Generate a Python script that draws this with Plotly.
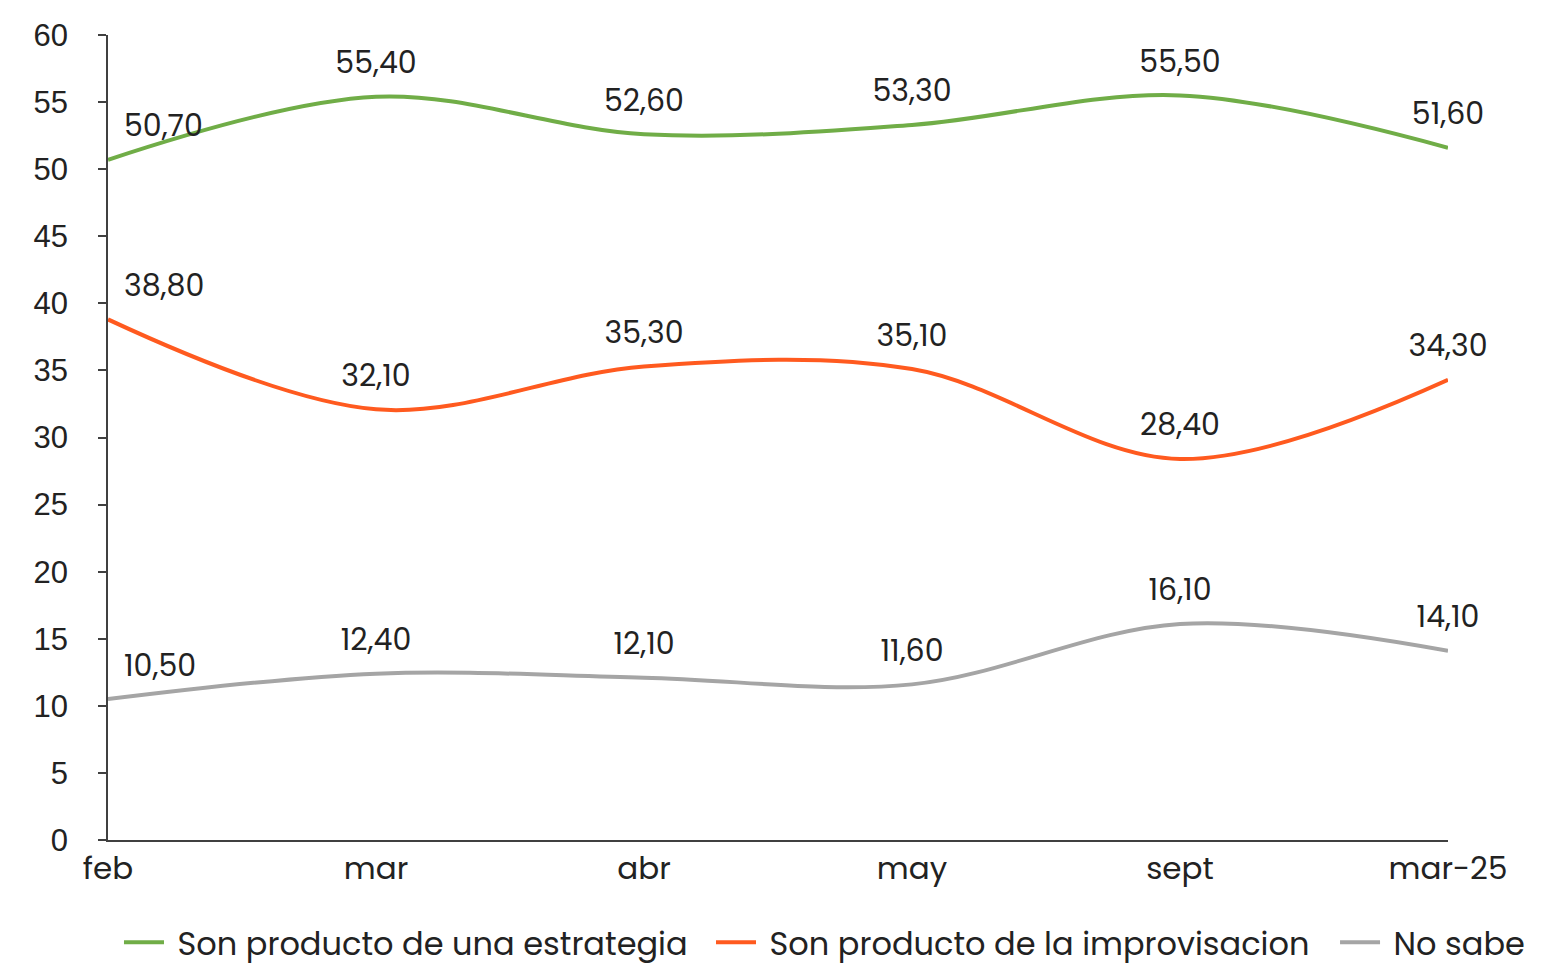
import plotly.graph_objects as go

categories = ["feb", "mar", "abr", "may", "sept", "mar-25"]
estrategia = [50.7, 55.4, 52.6, 53.3, 55.5, 51.6]
improvisacion = [38.8, 32.1, 35.3, 35.1, 28.4, 34.3]
no_sabe = [10.5, 12.4, 12.1, 11.6, 16.1, 14.1]
y_ticks = list(range(0, 61, 5))

series = [
    ("Son producto de una estrategia", estrategia, "#70AD47", "legend"),
    ("Son producto de la improvisacion", improvisacion, "#FF5A1F", "legend2"),
    ("No sabe", no_sabe, "#A5A5A5", "legend3"),
]

def fmt(v):
    return f"{v:.2f}".replace(".", ",")

LABEL_FONT = "Poppins, Inter, 'Noto Sans', sans-serif"
NB = "\u00a0"
xs = list(range(len(categories)))

fig = go.Figure()
for name, vals, color, leg in series:
    fig.add_trace(go.Scatter(
        x=xs, y=vals, name=NB + name, mode="lines", legend=leg,
        line=dict(color=color, width=4, shape="spline", smoothing=1.0),
        cliponaxis=False,
    ))
for name, vals, color, leg in series:
    pos = ["top right"] + ["top center"] * (len(vals) - 1)
    fig.add_trace(go.Scatter(
        x=xs, y=vals, mode="markers+text", showlegend=False, hoverinfo="skip",
        marker=dict(size=24, opacity=0, color=color),
        text=[fmt(v) for v in vals],
        textposition=pos,
        textfont=dict(family=LABEL_FONT, size=30, color="#222222"),
        cliponaxis=False,
    ))

def leg(x):
    return dict(orientation="h", x=x, xanchor="left", y=-0.093, yanchor="top",
                font=dict(family=LABEL_FONT, size=32, color="#222222"),
                itemwidth=40, bgcolor="rgba(0,0,0,0)")

fig.update_layout(
    width=1555, height=964,
    margin=dict(l=100, r=115, t=27, b=132, autoexpand=False),
    paper_bgcolor="white", plot_bgcolor="white",
    showlegend=True,
    legend=leg(0.0082),
    legend2=leg(0.45),
    legend3=leg(0.9157),
    xaxis=dict(range=[0, 5], tickmode="array", tickvals=xs, automargin=False,
               ticktext=categories, showgrid=False, zeroline=False,
               showline=True, linecolor="#404040", linewidth=1.5, ticks="",
               tickfont=dict(family=LABEL_FONT, size=31, color="#222222")),
    yaxis=dict(range=[0, 60], tickmode="array", tickvals=y_ticks, showgrid=False,
               automargin=False,
               zeroline=False, showline=True, linecolor="#404040", linewidth=1.5,
               ticks="outside", ticklen=8, tickcolor="#404040", tickwidth=1.5,
               ticklabelstandoff=24,
               tickfont=dict(family="'Liberation Sans', Arial, sans-serif", size=31, color="#222222")),
)

fig.write_html("out.html")
